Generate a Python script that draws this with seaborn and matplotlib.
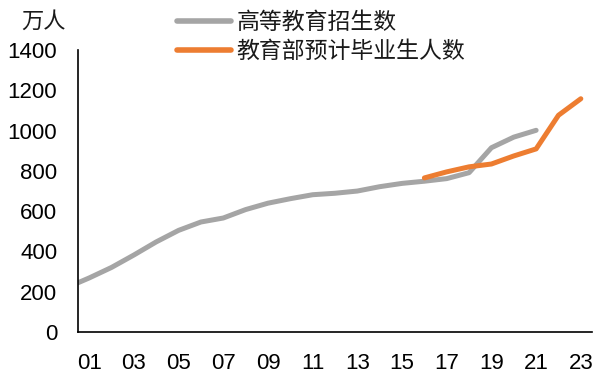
import matplotlib
matplotlib.use("Agg")
import matplotlib.pyplot as plt
import seaborn as sns
import pandas as pd
from matplotlib.ticker import FixedLocator, NullFormatter, FixedFormatter

# ---- data (万人) ----
enroll_years = list(range(2000, 2022))
enroll_vals = [220.6, 268.3, 320.5, 382.2, 447.3, 504.5, 546.1, 565.9, 607.7, 639.5,
               661.8, 681.5, 688.8, 699.8, 721.4, 737.8, 748.6, 761.5, 791.0, 914.9,
               967.5, 1001.3]
grad_years = list(range(2016, 2024))
grad_vals = [765, 795, 820, 834, 874, 909, 1076, 1158]

series_enroll = "高等教育招生数"
series_grad = "教育部预计毕业生人数"
label_years = list(range(2001, 2024, 2))
tick_labels = [f"{y % 100:02d}" for y in label_years]
yticks = [0, 200, 400, 600, 800, 1000, 1200, 1400]
unit_label = "万人"

df = pd.concat([
    pd.DataFrame({"year": enroll_years, "value": enroll_vals, "series": series_enroll}),
    pd.DataFrame({"year": grad_years, "value": grad_vals, "series": series_grad}),
], ignore_index=True)

sns.set_style("white")
plt.rcParams["font.family"] = ["Liberation Sans", "Noto Sans CJK SC"]

fig = plt.figure(figsize=(6.08, 3.74), dpi=100)
ax = fig.add_axes([78 / 608, 1 - 332 / 374, (592 - 78) / 608, (332 - 50) / 374])

palette = {series_enroll: "#A5A5A5", series_grad: "#ED7D31"}
sns.lineplot(data=df, x="year", y="value", hue="series", palette=palette,
             linewidth=3.6, ax=ax, legend=True, solid_capstyle="round")

ax.set_xlim(2000.5, 2023.5)
ax.set_ylim(0, 1400)
ax.set_xlabel("")
ax.set_ylabel("")

# x axis: tick marks between categories, labels at category centres
ax.xaxis.set_major_locator(FixedLocator([y + 0.5 for y in range(2002, 2023, 2)]))
ax.xaxis.set_major_formatter(NullFormatter())
ax.xaxis.set_minor_locator(FixedLocator(label_years))
ax.xaxis.set_minor_formatter(FixedFormatter(tick_labels))
ax.tick_params(axis="x", which="major", direction="in", length=5, width=1.1, color="black")
ax.tick_params(axis="x", which="minor", length=0, pad=15, labelsize=16, labelcolor="black")

ax.set_yticks(yticks)
ax.set_yticklabels([str(v) for v in yticks])
ax.tick_params(axis="y", direction="in", length=4.5, width=1.1, color="black",
               pad=15, labelsize=16, labelcolor="black")

for s in ["top", "right"]:
    ax.spines[s].set_visible(False)
for s in ["left", "bottom"]:
    ax.spines[s].set_color("black")
    ax.spines[s].set_linewidth(1.2)

handles, labels = ax.get_legend_handles_labels()
ax.legend_.remove()
leg = fig.legend(handles, labels, loc="upper left", bbox_to_anchor=(177 / 608, 1 - 11 / 374),
                 frameon=False, fontsize=16.5, handlelength=2.35, handletextpad=0.25,
                 borderpad=0, borderaxespad=0, labelspacing=0.27)
for line in leg.get_lines():
    line.set_linewidth(4)
for t in leg.get_texts():
    t.set_color("#1a1a1a")

fig.text(44 / 608, 1 - 22 / 374, unit_label, ha="center", va="center", fontsize=16,
         color="#1a1a1a")

fig.savefig("out.png", dpi=100)
